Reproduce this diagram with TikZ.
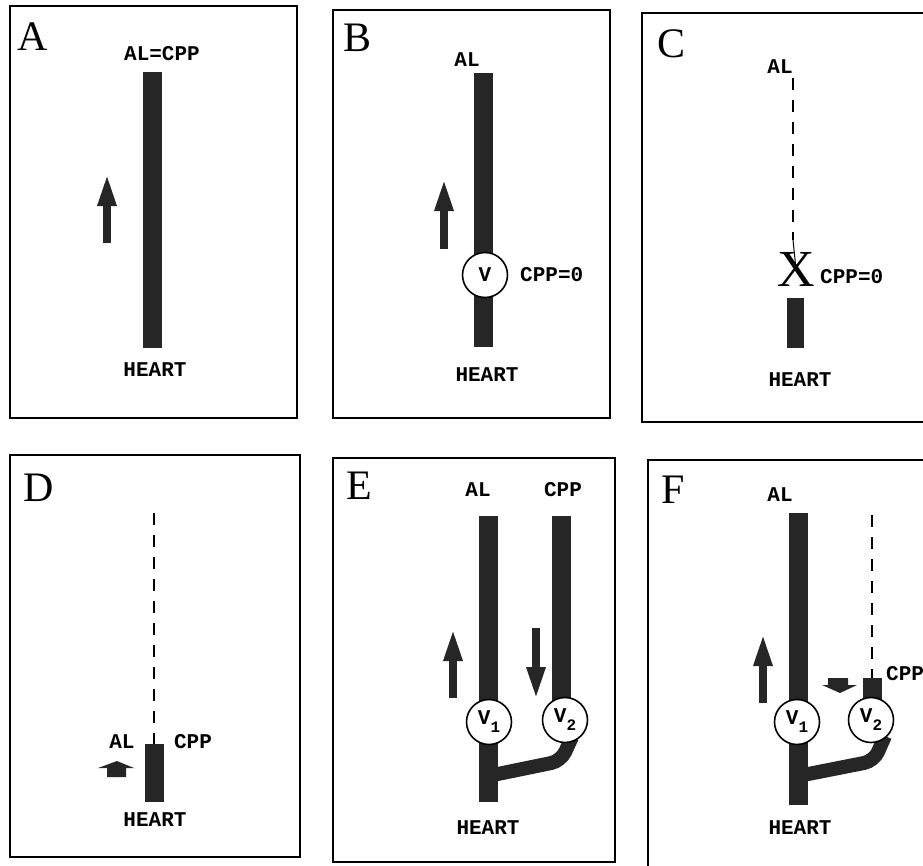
\documentclass[tikz,border=0pt]{standalone}
\usepackage{fontspec}
\newfontfamily\tw{Liberation Mono}
\newfontfamily\lettr{Liberation Serif}
\usetikzlibrary{arrows.meta}

\begin{document}
\begin{tikzpicture}[x=1pt,y=-1pt,
    frame/.style={line width=2.2pt},
    panel/.style={font=\lettr\fontsize{42}{42}\selectfont, inner sep=0pt},
    lbl/.style={font=\tw\bfseries\fontsize{21}{24}\selectfont, inner sep=0pt},
    vessel/.style={line width=19pt, draw=black!85},
    tube/.style={line width=14pt, draw=black!85, rounded corners=10pt},
    flow/.style={line width=8pt, draw=black!85, -{Triangle[length=33pt,width=17pt]}},
    gone/.style={dashed, dash pattern=on 12pt off 10pt, line width=2.8pt},
    valve/.style={circle, draw, fill=white, line width=1.6pt, minimum size=45pt, inner sep=0pt,
      font=\tw\bfseries\fontsize{21}{24}\selectfont},
    fat/.style={fill=black!85}]
    \clip (0,0) rectangle (923,865);

    \draw[frame] (10,6) rectangle (297,418);
    \draw[frame] (333,10) rectangle (610,418);
    \draw[frame] (642,13) rectangle (935,422);
    \draw[frame] (10,455) rectangle (300,857);
    \draw[frame] (333,458) rectangle (615,862);
    \draw[frame] (648,460) rectangle (935,880);

    \node[panel] (A) at (33,37) {A};
    \node[panel] (B) at (358,38) {B};
    \node[panel] (C) at (671,44) {C};
    \node[panel] (D) at (39,488) {D};
    \node[panel] (E) at (359,486) {E};
    \node[panel] (F) at (673,490) {F};

    \coordinate (Atop) at (152,72);
    \coordinate (Abot) at (152,348);
    \coordinate (Af1) at (107,243);
    \coordinate (Af2) at (107,173);
    \draw[vessel] (Atop) -- (Abot);
    \draw[flow] (Af1) -- (Af2);
    \node[lbl] (Aal) at (162,54) {AL=CPP};
    \node[lbl] (Aheart) at (155,370) {HEART};

    \coordinate (Btop) at (483,73);
    \coordinate (Bbot) at (483,347);
    \coordinate (Bf1) at (444,249);
    \coordinate (Bf2) at (444,178);
    \draw[vessel] (Btop) -- (Bbot);
    \draw[flow] (Bf1) -- (Bf2);
    \node[valve] (Bv) at (485,275) {V};
    \node[lbl] (Bal) at (467,60) {AL};
    \node[lbl, anchor=west] (Bcpp) at (520,275) {CPP=0};
    \node[lbl] (Bheart) at (487,375) {HEART};

    \coordinate (Ctop) at (793,78);
    \coordinate (Cend) at (793,240);
    \coordinate (Cstub1) at (795,298);
    \coordinate (Cstub2) at (795,348);
    \node[font=\lettr\fontsize{52}{52}\selectfont, inner sep=0pt] (Cx) at (796,269) {X};
    \draw[gone] (Ctop) -- (Cend);
    \draw[line width=1pt] (Cend) -- (Cx.center);
    \draw[vessel, line width=17pt] (Cstub1) -- (Cstub2);
    \node[lbl] (Cal) at (780,67) {AL};
    \node[lbl, anchor=west] (Ccpp) at (820,277) {CPP=0};
    \node[lbl] (Cheart) at (800,380) {HEART};

    \coordinate (Dtop) at (154,513);
    \coordinate (Dend) at (154,744);
    \coordinate (Dbot) at (154,802);
    \draw[gone] (Dtop) -- (Dend);
    \draw[vessel] (Dend) -- (Dbot);
    \fill[fat] (107,777) -- (107,768) -- (98,768) -- (117,761) -- (134,768) -- (126,768) -- (126,777) -- cycle;
    \node[lbl] (Dal) at (122,742) {AL};
    \node[lbl] (Dcpp) at (193,742) {CPP};
    \node[lbl] (Dheart) at (155,820) {HEART};

    \coordinate (Etop1) at (488,516);
    \coordinate (Ebot1) at (488,802);
    \coordinate (Etop2) at (561,516);
    \coordinate (Ebot2) at (561,705);
    \coordinate (Ef1) at (453,698);
    \coordinate (Ef2) at (453,628);
    \coordinate (Ef3) at (536,628);
    \coordinate (Ef4) at (536,700);
    \draw[vessel] (Etop1) -- (Ebot1);
    \draw[vessel] (Etop2) -- (Ebot2);
    \draw[tube] (488,776) -- (561,761) -- (572,737);
    \draw[flow] (Ef1) -- (Ef2);
    \draw[flow] (Ef3) -- (Ef4);
    \node[valve] (Ev1) at (489,722) {V\raisebox{-8pt}{\fontsize{16}{16}\selectfont 1}};
    \node[valve] (Ev2) at (565,720) {V\raisebox{-8pt}{\fontsize{16}{16}\selectfont 2}};
    \node[lbl] (Eal) at (478,490) {AL};
    \node[lbl] (Ecpp) at (563,490) {CPP};
    \node[lbl] (Eheart) at (488,828) {HEART};

    \coordinate (Ftop1) at (798,513);
    \coordinate (Fbot1) at (798,805);
    \coordinate (Ftop2) at (872,515);
    \coordinate (Fend2) at (872,678);
    \coordinate (Fbot2) at (872,705);
    \coordinate (Ff1) at (763,703);
    \coordinate (Ff2) at (763,633);
    \draw[vessel] (Ftop1) -- (Fbot1);
    \draw[gone] (Ftop2) -- (Fend2);
    \draw[vessel] (Fend2) -- (Fbot2);
    \draw[tube] (798,776) -- (874,761) -- (885,736);
    \draw[flow] (Ff1) -- (Ff2);
    \fill[fat] (828,678) -- (848,678) -- (848,685) -- (857,685) -- (840,693) -- (822,685) -- (828,685) -- cycle;
    \node[valve] (Fv1) at (797,722) {V\raisebox{-8pt}{\fontsize{16}{16}\selectfont 1}};
    \node[valve] (Fv2) at (871,720) {V\raisebox{-8pt}{\fontsize{16}{16}\selectfont 2}};
    \node[lbl] (Fal) at (780,495) {AL};
    \node[lbl, anchor=west] (Fcpp) at (886,674) {CPP};
    \node[lbl] (Fheart) at (800,828) {HEART};
\end{tikzpicture}
\end{document}
